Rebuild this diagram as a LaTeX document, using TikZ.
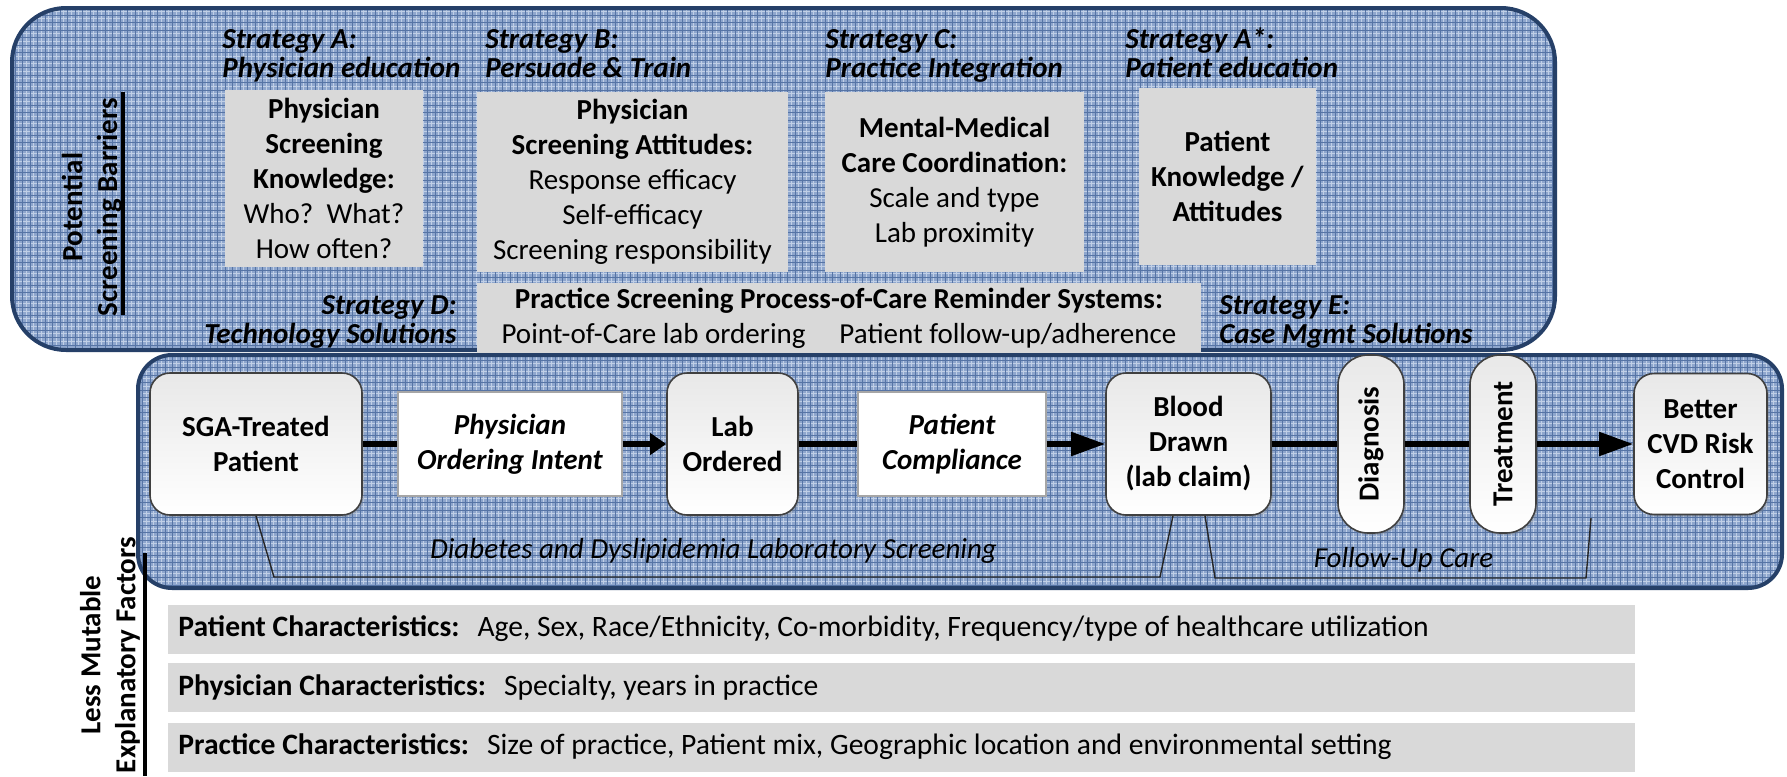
\documentclass[tikz,border=0pt]{standalone}
\usepackage{fontspec}
\setmainfont{Carlito}
\usepackage{tikz}
\usetikzlibrary{arrows.meta}
\usetikzlibrary{calc,shadows}

\definecolor{navy}{RGB}{38,64,104}
\definecolor{panelblue}{RGB}{142,166,205}
\definecolor{gridblue}{RGB}{86,116,165}
\definecolor{gridlight}{RGB}{192,207,230}
\definecolor{boxgray}{RGB}{217,217,217}
\definecolor{edgegray}{RGB}{64,64,64}

\newcommand{\bodyfont}{\fontsize{14.5}{17.5}\selectfont}
\newcommand{\stratfont}{\fontsize{14.5}{14.5}\selectfont\bfseries\itshape}

\tikzset{
  panel/.style={draw=navy, line width=2pt, rounded corners=#1},
  barrierbox/.style={fill=boxgray, inner sep=0pt, align=center, font=\bodyfont},
  stratlabel/.style={inner sep=0pt, font=\stratfont},
  stagebox/.style={draw=edgegray, line width=0.8pt, rounded corners=10pt, top color=black!9, bottom color=white,
    drop shadow={opacity=0.3, shadow xshift=1pt, shadow yshift=-1pt}, inner sep=0pt, align=center, font=\bodyfont\bfseries},
  intentbox/.style={draw=black!35, line width=0.6pt, fill=white, inner sep=0pt, align=center, font=\bodyfont\bfseries\itshape},
  factorbar/.style={fill=boxgray, inner xsep=5pt, inner ysep=0pt, text width=723.5pt, minimum height=24.5pt, anchor=west, align=flush left, font=\fontsize{14.8}{17.5}\selectfont},
  flowline/.style={line width=2.6pt},
  bracketline/.style={line width=0.7pt, black!85},
  dividerline/.style={line width=1.6pt},
}

\begin{document}
\begin{tikzpicture}[x=0.5pt, y=-0.5pt]
\useasboundingbox (0,0) rectangle (1787,776);

% screening barriers panel
\begin{scope}
\clip[rounded corners=27pt] (12,8) rectangle (1555,350);
\fill[panelblue] (12,8) rectangle (1555,350);
\draw[gridlight, line width=0.5pt, shift={(1.875pt,1.875pt)}] (12,350) grid[step=3.75pt] (1555,8);
\draw[gridblue, line width=0.5pt] (12,350) grid[step=3.75pt] (1555,8);
\end{scope}
\draw[panel=27pt] (12,8) rectangle (1555,350);

% screening process panel
\begin{scope}
\clip[rounded corners=17pt] (138,355) rectangle (1782,588);
\fill[panelblue] (138,355) rectangle (1782,588);
\draw[gridlight, line width=0.5pt, shift={(1.875pt,1.875pt)}] (138,588) grid[step=3.75pt] (1782,355);
\draw[gridblue, line width=0.5pt] (138,588) grid[step=3.75pt] (1782,355);
\end{scope}
\draw[panel=17pt] (138,355) rectangle (1782,588);

% barriers
\node[rotate=90, align=center, font=\bodyfont\bfseries] (barrierlabel) at (92,207) {Potential\\Screening Barriers};
\draw[dividerline] (123,92) -- (123,315);

\node[stratlabel, anchor=base west, align=left] (stratA) at (222,77) {Strategy A:\\Physician education};
\node[stratlabel, anchor=base west, align=left] (stratB) at (485,77) {Strategy B:\\Persuade \& Train};
\node[stratlabel, anchor=base west, align=left] (stratC) at (825,77) {Strategy C:\\Practice Integration};
\node[stratlabel, anchor=base west, align=left] (stratAstar) at (1125,77) {Strategy A*:\\Patient education};
\node[stratlabel, anchor=base east, align=right] (stratD) at (457,343) {Strategy D:\\Technology Solutions};
\node[stratlabel, anchor=base west, align=left] (stratE) at (1219,343) {Strategy E:\\Case Mgmt Solutions};

\node[barrierbox, minimum width=99pt, minimum height=88.5pt] (knowledge) at (324,178.5)
  {\textbf{Physician}\\\textbf{Screening}\\\textbf{Knowledge:}\\Who?\ \ What?\\How often?};
\node[barrierbox, minimum width=155.5pt, minimum height=90pt] (attitudes) at (632.5,182)
  {\textbf{Physician}\\\textbf{Screening Attitudes:}\\Response efficacy\\Self-efficacy\\Screening responsibility};
\node[barrierbox, minimum width=129.5pt, minimum height=90pt] (coordination) at (954.5,182)
  {\textbf{Mental-Medical}\\\textbf{Care Coordination:}\\Scale and type\\Lab proximity};
\node[barrierbox, minimum width=88.5pt, minimum height=88.5pt] (patientknow) at (1227.5,176.5)
  {\textbf{Patient}\\\textbf{Knowledge /}\\\textbf{Attitudes}};
\node[barrierbox, minimum width=362pt, minimum height=35pt] (reminder) at (839,318)
  {\textbf{Practice Screening Process-of-Care Reminder Systems:}\\Point-of-Care lab ordering\hspace{17pt}Patient follow-up/adherence};

% screening steps
\node[stagebox, minimum width=106pt, minimum height=71pt] (sga) at (256,444) {SGA-Treated\\Patient};
\node[intentbox, minimum width=112pt, minimum height=52pt] (intent) at (510,444) {Physician\\Ordering Intent};
\node[stagebox, minimum width=65.5pt, minimum height=71pt] (ordered) at (732.5,444) {Lab\\Ordered};
\node[intentbox, minimum width=94pt, minimum height=52pt] (compliance) at (952,444) {Patient\\Compliance};
\node[stagebox, minimum width=82.5pt, minimum height=71pt] (drawn) at (1188.5,444) {Blood\\Drawn\\(lab claim)};
\node[stagebox, rotate=90, rounded corners=15pt, minimum width=89pt, minimum height=33pt] (diagnosis) at (1371,444) {Diagnosis};
\node[stagebox, rotate=90, rounded corners=15pt, minimum width=89pt, minimum height=33pt] (treatment) at (1503,444) {Treatment};
\node[stagebox, minimum width=66.5pt, minimum height=70.5pt] (control) at (1700.5,444) {Better\\CVD Risk\\Control};

\draw[flowline] (sga) -- (intent);
\draw[flowline, -{Triangle[length=8pt,width=10.5pt]}] (intent) -- (ordered);
\draw[flowline] (ordered) -- (compliance);
\draw[flowline, -{Triangle[length=17pt,width=11.5pt]}] (compliance) -- (drawn);
\draw[flowline] (drawn) -- (diagnosis);
\draw[flowline] (diagnosis) -- (treatment);
\draw[flowline, -{Triangle[length=17pt,width=11.5pt]}] (treatment) -- (control);

% brackets
\coordinate (scrL) at (274,577);
\coordinate (scrR) at (1160,577);
\draw[bracketline] (sga.south) -- (scrL) -- (scrR) -- ($(drawn.south)+(-15.5,0)$);
\coordinate (fupL) at (1215,578);
\coordinate (fupR) at (1586,578);
\coordinate (fupEnd) at (1591,518);
\draw[bracketline] ($(drawn.south)+(16.5,0)$) -- (fupL) -- (fupR) -- (fupEnd);
\node[font=\bodyfont\itshape, anchor=base] (screenlabel) at (713.5,558) {Diabetes and Dyslipidemia Laboratory Screening};
\node[font=\bodyfont\itshape, anchor=base] (followlabel) at (1403.5,567) {Follow-Up Care};

% explanatory factors
\node[rotate=90, align=center, font=\bodyfont\bfseries] (factorlabel) at (110,655) {Less Mutable\\Explanatory Factors};
\draw[dividerline] (145,553) -- (145,776);
\node[factorbar] (patientbar) at (168,629)
  {\textbf{Patient Characteristics:}\hspace{9pt}Age, Sex, Race/Ethnicity, Co-morbidity, Frequency/type of healthcare utilization};
\node[factorbar] (physicianbar) at (168,687.5)
  {\textbf{Physician Characteristics:}\hspace{9pt}Specialty, years in practice};
\node[factorbar] (practicebar) at (168,747)
  {\textbf{Practice Characteristics:}\hspace{9pt}Size of practice, Patient mix, Geographic location and environmental setting};
\end{tikzpicture}
\end{document}
